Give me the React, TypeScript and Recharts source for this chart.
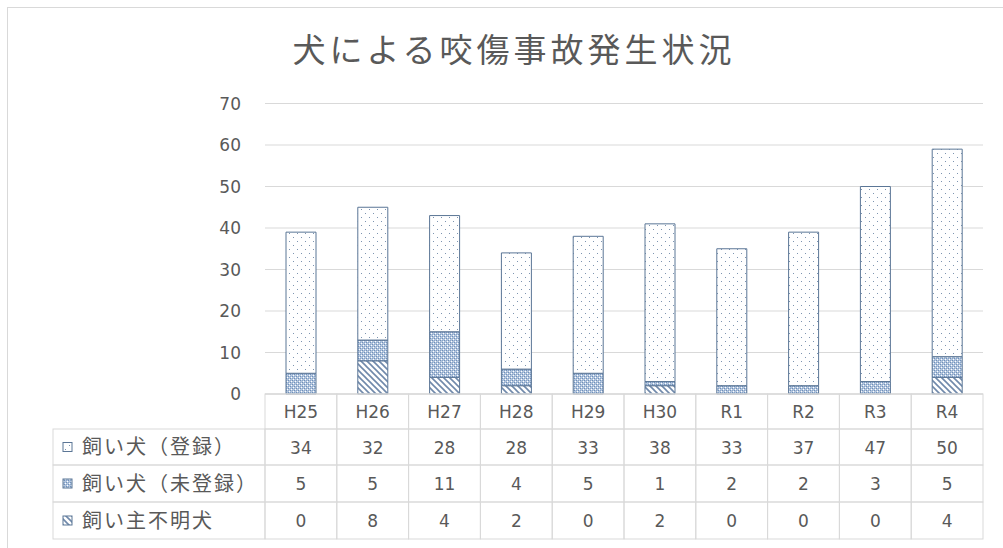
import { BarChart, Bar, XAxis, YAxis, CartesianGrid } from 'recharts'

const years = ['H25', 'H26', 'H27', 'H28', 'H29', 'H30', 'R1', 'R2', 'R3', 'R4']
const registered = [34, 32, 28, 28, 33, 38, 33, 37, 47, 50]
const unregistered = [5, 5, 11, 4, 5, 1, 2, 2, 3, 5]
const unknownOwner = [0, 8, 4, 2, 0, 2, 0, 0, 0, 4]
const yTicks = [0, 10, 20, 30, 40, 50, 60, 70]

const seriesNames = ['飼い犬（登録）', '飼い犬（未登録）', '飼い主不明犬']
const seriesRows = [registered, unregistered, unknownOwner]
const seriesFills = ['url(#dots)', 'url(#cross)', 'url(#diag)']

const data = years.map((year, i) => ({
  year,
  registered: registered[i],
  unregistered: unregistered[i],
  unknownOwner: unknownOwner[i],
}))

// layout
const W = 1003
const H = 548
const PLOT_L = 265
const PLOT_R = 983
const PLOT_T = 103.5
const PLOT_B = 394
const TABLE_L = 53
const ROW_Y = [394, 429, 465, 502, 539]
const COL_W = (PLOT_R - PLOT_L) / years.length

const GRID = '#d9d9d9'
const TEXT = '#595959'
const EDGE = '#5b7696'
const FONT = '"Noto Sans CJK JP", "Noto Sans", sans-serif'
const NUM_FONT = '"DejaVu Sans", Verdana, sans-serif'

function TableTick({ x, payload }: { x?: number; y?: number; payload?: { value: string; index: number } }) {
  if (x == null || !payload) return null
  const i = payload.index
  const x0 = x - COL_W / 2
  return (
    <g>
      {ROW_Y.slice(0, 4).map((ry, r) => (
        <rect key={r} x={x0} y={ry} width={COL_W} height={ROW_Y[r + 1] - ry} fill="none" stroke={GRID} strokeWidth={1} />
      ))}
      <text x={x} y={(ROW_Y[0] + ROW_Y[1]) / 2 + 6.5} textAnchor="middle" fill={TEXT} fontSize={17} fontFamily={NUM_FONT}>
        {payload.value}
      </text>
      {seriesRows.map((row, r) => (
        <text key={r} x={x} y={(ROW_Y[r + 1] + ROW_Y[r + 2]) / 2 + 6.5} textAnchor="middle" fill={TEXT} fontSize={17} fontFamily={NUM_FONT}>
          {row[i]}
        </text>
      ))}
      {i === 0 && seriesNames.map((name, r) => {
        const ry = ROW_Y[r + 1]
        const rh = ROW_Y[r + 2] - ry
        return (
          <g key={name}>
            <rect x={TABLE_L} y={ry} width={PLOT_L - TABLE_L} height={rh} fill="none" stroke={GRID} strokeWidth={1} />
            <rect x={TABLE_L + 10} y={ry + rh / 2 - 4.5} width={9} height={9} fill={seriesFills[r]} stroke={EDGE} strokeWidth={1} />
            <text x={TABLE_L + 29} y={ry + rh / 2 + 7} fill={TEXT} fontSize={20} letterSpacing={2} fontFamily={FONT}>
              {name}
            </text>
          </g>
        )
      })}
    </g>
  )
}

export default function App() {
  return (
    <div style={{ position: 'relative', width: W, height: H, background: '#fff', overflow: 'hidden' }}>
      <style>{'body{margin:0}'}</style>
      <div style={{ position: 'absolute', left: 7, top: 7, right: 0, bottom: 0, borderTop: `1px solid ${GRID}`, borderLeft: `1px solid ${GRID}` }} />
      <div style={{ position: 'absolute', top: 24, left: 0, width: 1020, paddingLeft: 4, textAlign: 'center', fontFamily: FONT, fontSize: 33, letterSpacing: 4, color: TEXT }}>
        犬による咬傷事故発生状況
      </div>
      <div style={{ position: 'absolute', left: 0, top: 0 }}>
        <BarChart width={W} height={H} data={data} margin={{ top: PLOT_T, right: W - PLOT_R, bottom: 0, left: 0 }} barSize={30}>
          <defs>
            <pattern id="dots" width={8} height={8} patternUnits="userSpaceOnUse">
              <rect width={8} height={8} fill="#ffffff" />
              <rect x={1} y={1} width={1} height={1} fill="#7d94b0" />
              <rect x={5} y={5} width={1} height={1} fill="#7d94b0" />
            </pattern>
            <pattern id="cross" width={4} height={4} patternUnits="userSpaceOnUse">
              <rect width={4} height={4} fill="#b2c5de" />
              <rect x={0} y={0} width={1} height={1} fill="#6f8fb8" />
              <rect x={2} y={2} width={1} height={1} fill="#6f8fb8" />
              <rect x={2} y={0} width={1} height={1} fill="#88a4c8" />
              <rect x={0} y={2} width={1} height={1} fill="#88a4c8" />
              <rect x={1} y={3} width={1} height={1} fill="#ffffff" />
              <rect x={3} y={1} width={1} height={1} fill="#ffffff" />
            </pattern>
            <pattern id="diag" width={6} height={6} patternUnits="userSpaceOnUse">
              <rect width={6} height={6} fill="#ffffff" />
              <path d="M-1,-1 L7,7 M-1,5 L1,7 M5,-1 L7,1" stroke="#7089ab" strokeWidth={1.6} />
            </pattern>
          </defs>
          <CartesianGrid vertical={false} stroke={GRID} />
          <XAxis
            dataKey="year"
            height={H - PLOT_B}
            axisLine={{ stroke: GRID }}
            tickLine={false}
            interval={0}
            tick={<TableTick />}
          />
          <YAxis
            width={PLOT_L}
            domain={[0, 70]}
            ticks={yTicks}
            axisLine={false}
            tickLine={false}
            tickMargin={18}
            tick={{ fill: TEXT, fontSize: 17, fontFamily: NUM_FONT }}
          />
          <Bar dataKey="unknownOwner" stackId="a" fill="url(#diag)" stroke={EDGE} strokeWidth={1} isAnimationActive={false} />
          <Bar dataKey="unregistered" stackId="a" fill="url(#cross)" stroke={EDGE} strokeWidth={1} isAnimationActive={false} />
          <Bar dataKey="registered" stackId="a" fill="url(#dots)" stroke={EDGE} strokeWidth={1} isAnimationActive={false} />
        </BarChart>
      </div>
    </div>
  )
}
